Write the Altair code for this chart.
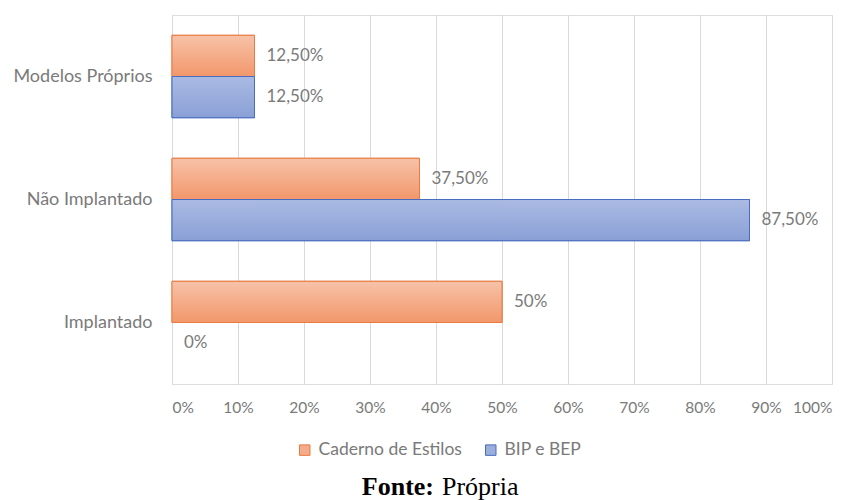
import altair as alt
import pandas as pd

# Survey categories (top to bottom) and the two series
categories = ["Modelos Próprios", "Não Implantado", "Implantado"]
series = ["Caderno de Estilos", "BIP e BEP"]
caderno_values = [0.125, 0.375, 0.50]
bip_values = [0.125, 0.875, 0.0]
x_ticks = [0, 0.1, 0.2, 0.3, 0.4, 0.5, 0.6, 0.7, 0.8, 0.9, 1.0]

fill_colors = ["#F4AC8A", "#9CAEDC"]
stroke_colors = ["#E97B42", "#4A6CBE"]
gradient_stops = [("#F7C2A8", "#F2976B"), ("#AABAE3", "#8AA0D6")]


def pct_label(v):
    p = v * 100
    if abs(p - round(p)) < 1e-9:
        return f"{int(round(p))}%"
    return f"{p:.2f}".replace(".", ",") + "%"


rows = []
for s, vals in zip(series, [caderno_values, bip_values]):
    for c, v in zip(categories, vals):
        rows.append({"categoria": c, "serie": s, "valor": v, "rotulo": pct_label(v)})
df = pd.DataFrame(rows)

FONT = "Lato"
GRAY = "#7A7A7A"

y_enc = alt.Y("categoria:N", sort=categories,
              scale=alt.Scale(paddingInner=0.33, paddingOuter=0.165),
              axis=alt.Axis(title=None, ticks=False, domain=False, grid=False,
                            labelFontSize=18, labelPadding=20, labelColor=GRAY,
                            labelFont=FONT))
yoff_enc = alt.YOffset("serie:N", sort=series, scale=alt.Scale(domain=series))
x_enc = alt.X("valor:Q", scale=alt.Scale(domain=[0, 1], nice=False),
              axis=alt.Axis(title=None, values=x_ticks, format=".0%",
                            grid=True, gridColor="#D9D9D9", domain=False,
                            ticks=False, labelPadding=16, labelFontSize=15.5,
                            labelColor=GRAY, labelFont=FONT))

# Base bars carry the legend (flat swatches)
bars = alt.Chart(df).mark_bar(strokeWidth=1).encode(
    x=x_enc,
    y=y_enc,
    yOffset=yoff_enc,
    fill=alt.Fill("serie:N", sort=series,
                  scale=alt.Scale(domain=series, range=fill_colors),
                  legend=alt.Legend(title=None, orient="none", direction="horizontal",
                                    legendX=124, legendY=426,
                                    symbolType="square", symbolSize=110,
                                    symbolStrokeWidth=1,
                                    labelFontSize=17.5, labelColor=GRAY,
                                    labelFont=FONT, columnPadding=20,
                                    labelOffset=5)),
    stroke=alt.Stroke("serie:N", sort=series,
                      scale=alt.Scale(domain=series, range=stroke_colors),
                      legend=None),
    strokeOpacity=alt.condition("datum.valor > 0", alt.value(1), alt.value(0)),
)

# Vertical gradient shading on top of each series' bars
shaded = []
for s, (top, bottom), edge in zip(series, gradient_stops, stroke_colors):
    grad = alt.Gradient(
        gradient="linear",
        stops=[alt.GradientStop(color=top, offset=0),
               alt.GradientStop(color=bottom, offset=1)],
        x1=0, x2=0, y1=0, y2=1,
    )
    shaded.append(
        alt.Chart(df).transform_filter(alt.datum.serie == s)
        .transform_filter(alt.datum.valor > 0)
        .mark_bar(fill=grad, stroke=edge, strokeWidth=1)
        .encode(
            x="valor:Q",
            y=alt.Y("categoria:N", sort=categories),
            yOffset=alt.YOffset("serie:N", sort=series),
        )
    )

labels = alt.Chart(df).mark_text(align="left", baseline="middle", dx=12,
                                 fontSize=17, color=GRAY, font=FONT).encode(
    x="valor:Q",
    y=alt.Y("categoria:N", sort=categories),
    yOffset=alt.YOffset("serie:N", sort=series),
    text="rotulo:N",
)

caption_df = pd.DataFrame({"k": [0]})
fonte_bold = alt.Chart(caption_df).mark_text(
    align="right", baseline="alphabetic", font="Liberation Serif",
    fontWeight="bold", fontSize=26, color="#000000"
).encode(x=alt.value(262), y=alt.value(480), text=alt.value("Fonte:"))
fonte_regular = alt.Chart(caption_df).mark_text(
    align="left", baseline="alphabetic", font="Liberation Serif",
    fontSize=26, color="#000000"
).encode(x=alt.value(270), y=alt.value(480), text=alt.value("Própria"))

chart = alt.layer(bars, *shaded, labels, fonte_bold, fonte_regular).properties(
    width=660, height=369,
    autosize=alt.AutoSizeParams(type="none"),
    padding={"left": 172, "top": 15, "right": 22, "bottom": 116},
).configure_view(stroke=None).configure(background="#FFFFFF")

chart.save("out.html", embed_options={"renderer": "svg", "actions": False})
